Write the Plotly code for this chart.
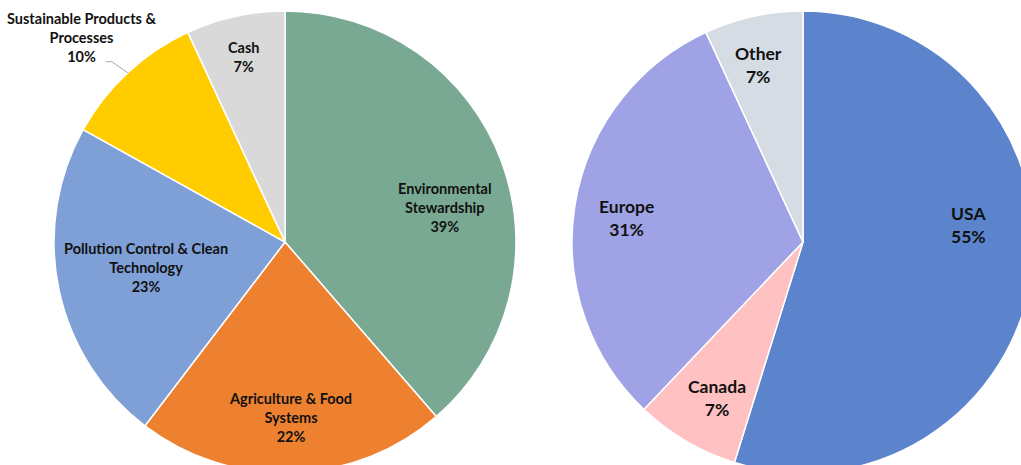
import math
import plotly.graph_objects as go

# ---- data ----
left_labels = ["Environmental<br>Stewardship", "Agriculture & Food<br>Systems",
               "Pollution Control & Clean<br>Technology", "Sustainable Products &<br>Processes", "Cash"]
left_values = [38.6, 21.7, 22.7, 10.0, 6.9]
right_labels = ["USA", "Canada", "Europe", "Other"]
right_values = [54.8, 7.3, 31.0, 6.9]

# ---- style ----
left_colors = ["#7AA993", "#EE8130", "#7F9FD7", "#FFCC00", "#D9D9D9"]
right_colors = ["#5B84CC", "#FFC1C1", "#9FA3E6", "#D5DCE4"]
left_label_r = [0.71, 0.76, 0.61, 1.25, 0.82]
left_label_da = [8.2, 0, 1.4, -1.9, 0]
right_label_r = [0.72, 0.77, 0.77, 0.79]
right_label_da = [-14.6, -1.5, -1.5, -1.6]

W, H = 1040, 490
R = 231
LC = (285, 242)
RC = (803, 242)
FONT = "Lato"


def domain(c):
    return dict(x=[(c[0] - R) / W, (c[0] + R) / W],
                y=[(H - c[1] - R) / H, (H - c[1] + R) / H])


def polar(c, ang, f):
    a = math.radians(ang)
    px = c[0] + f * R * math.sin(a)
    py = c[1] - f * R * math.cos(a)
    return px, py


def mids(values):
    tot = sum(values)
    out, acc = [], 0
    for v in values:
        out.append((acc + v / 2) / tot * 360)
        acc += v
    return out


fig = go.Figure()
fig.add_trace(go.Pie(values=left_values, labels=left_labels, sort=False, direction="clockwise",
                     rotation=0, textinfo="none", hoverinfo="label+percent",
                     marker=dict(colors=left_colors, line=dict(color="white", width=1.5)),
                     domain=domain(LC), showlegend=False))
fig.add_trace(go.Pie(values=right_values, labels=right_labels, sort=False, direction="clockwise",
                     rotation=0, textinfo="none", hoverinfo="label+percent",
                     marker=dict(colors=right_colors, line=dict(color="white", width=1.5)),
                     domain=domain(RC), showlegend=False))

annotations = []
shapes = []
for labels, values, c, rf, da, size in [
    (left_labels, left_values, LC, left_label_r, left_label_da, 14.5),
    (right_labels, right_values, RC, right_label_r, right_label_da, 17.5),
]:
    tot = sum(values)
    for lab, v, m, f, d in zip(labels, values, mids(values), rf, da):
        px, py = polar(c, m + d, f)
        pct = round(v / tot * 100)
        annotations.append(dict(x=px / W, y=(H - py) / H, xref="paper", yref="paper",
                                text=f"<b>{lab}<br>{pct}%</b>", showarrow=False,
                                font=dict(family=FONT, size=size, color="#111111"),
                                xanchor="center", yanchor="middle", align="center"))
        if f > 1:
            ex, ey = polar(c, m, 1.0)
            sx, sy = ex - 16, ey - 11
            shapes.append(dict(type="path", xref="paper", yref="paper",
                               path=f"M {(sx-6)/W},{(H-sy)/H} L {sx/W},{(H-sy)/H} L {ex/W},{(H-ey)/H}",
                               line=dict(color="#A6A6A6", width=1)))

fig.update_layout(width=W, height=H, autosize=False, margin=dict(l=0, r=0, t=0, b=0),
                  paper_bgcolor="white", plot_bgcolor="white",
                  annotations=annotations, shapes=shapes)

fig.write_html("out.html", config={"displayModeBar": False},
               post_script="document.body.style.margin='0';document.body.style.overflow='hidden';")
